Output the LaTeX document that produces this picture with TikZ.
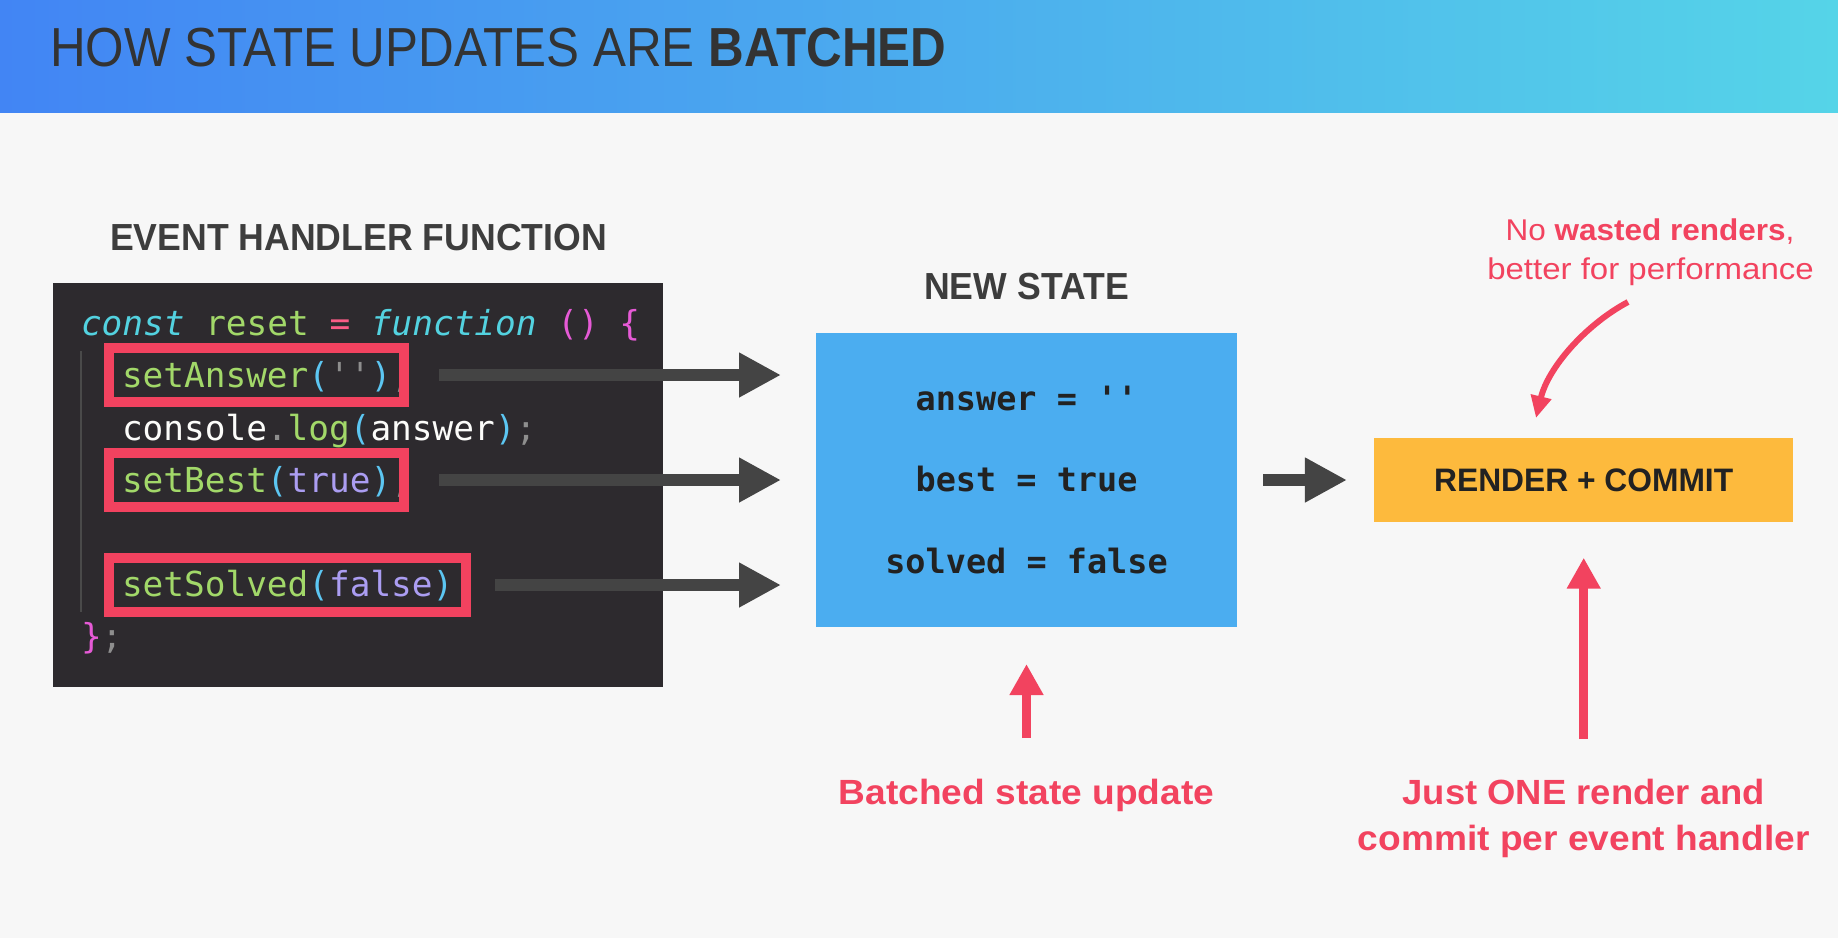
\documentclass[tikz,border=0pt]{standalone}
\usepackage{graphicx}
\usepackage{fontspec}
\setmainfont{Liberation Sans}
\setmonofont{DejaVu Sans Mono}
\usetikzlibrary{arrows.meta}

% palette
\definecolor{pagebg}{HTML}{F7F7F7}
\definecolor{hdrleft}{HTML}{4285F4}
\definecolor{hdrright}{HTML}{55D4E8}
\definecolor{titleink}{HTML}{333333}
\definecolor{headink}{HTML}{3D3D3D}
\definecolor{codebg}{HTML}{2D2A2E}
\definecolor{hlred}{HTML}{F2425F}
\definecolor{arrowgray}{HTML}{444444}
\definecolor{stateblue}{HTML}{4BADF0}
\definecolor{renderfill}{HTML}{FDBA3D}
\definecolor{accent}{HTML}{F2435F}
\definecolor{darkink}{HTML}{222222}
% code colours
\definecolor{ckw}{HTML}{53D2E0}
\definecolor{cgreen}{HTML}{A2D869}
\definecolor{cpink}{HTML}{FA5C86}
\definecolor{cmag}{HTML}{E65AD6}
\definecolor{cparen}{HTML}{5CC6F2}
\definecolor{cpunct}{HTML}{8E8E8E}
\definecolor{cconst}{HTML}{AB9DF2}
\definecolor{cwhite}{HTML}{FCFCFA}
\definecolor{guidegray}{HTML}{4A4A4A}

\newcommand{\setfs}[1]{\fontsize{#1}{#1}\selectfont}
\newcommand{\sx}[2]{\scalebox{#1}[1]{#2}}

\begin{document}
\begin{tikzpicture}[x=1pt,y=-1pt,
  every node/.style={inner sep=0pt, outer sep=0pt},
  heading/.style={anchor=base, text=headink, font=\bfseries\setfs{37.7}},
  codeline/.style={anchor=base west, font=\ttfamily\setfs{34.4}},
  statetext/.style={anchor=base, text=darkink, font=\ttfamily\bfseries\setfs{33.5}},
  hlbox/.style={draw=hlred, line width=10pt, minimum height=54pt},
  grayarrow/.style={draw=arrowgray, line width=12pt, -{Triangle[length=42pt,width=42pt]}},
  redarrow/.style={draw=accent, line width=9pt, -{Triangle[length=31pt,width=32pt]}},
  curvearrow/.style={draw=accent, line width=6pt, -{Triangle[length=22pt,width=20pt]}},
  note/.style={anchor=base, text=accent, font=\bfseries\setfs{35}},
]
\useasboundingbox (0,0) rectangle (1838,938);
\fill[pagebg] (0,0) rectangle (1838,938);

% header band
\shade[left color=hdrleft, right color=hdrright] (0,0) rectangle (1838,112.5);
\node[anchor=base west, text=titleink, font=\setfs{55}] (title) at (50,66.7)
  {\sx{0.898}{HOW STATE UPDATES ARE \textbf{BATCHED}}};

% event handler code
\node[heading] (ehf) at (358.5,250) {\sx{0.945}{EVENT HANDLER FUNCTION}};
\node[fill=codebg, minimum width=610pt, minimum height=404pt] (code) at (358,484.7) {};
\coordinate (g0) at (81,351);
\coordinate (g1) at (81,612);
\draw[guidegray, line width=2.5pt] (g0) -- (g1);

\node[codeline] (l1) at (81,335) {{\color{ckw}\itshape const} {\color{cgreen}reset} {\color{cpink}=} {\color{ckw}\itshape function} {\color{cmag}()} {\color{cmag}\{}};
\node[codeline] (l2) at (122,387.5) {{\color{cgreen}setAnswer}{\color{cparen}(}{\color{cpunct}''}{\color{cparen})}{\color{cpunct};}};
\node[codeline] (l3) at (122,440) {{\color{cwhite}console}{\color{cpunct}.}{\color{cgreen}log}{\color{cparen}(}{\color{cwhite}answer}{\color{cparen})}{\color{cpunct};}};
\node[codeline] (l4) at (122,492) {{\color{cgreen}setBest}{\color{cparen}(}{\color{cconst}true}{\color{cparen})}{\color{cpunct};}};
\node[codeline] (l6) at (122,596.7) {{\color{cgreen}setSolved}{\color{cparen}(}{\color{cconst}false}{\color{cparen})}};
\node[codeline] (l7) at (81,648) {{\color{cmag}\}}{\color{cpunct};}};

% highlighted setter calls
\node[hlbox, minimum width=295pt] (hl1) at (256.5,375) {};
\node[hlbox, minimum width=295pt] (hl2) at (256.5,480) {};
\node[hlbox, minimum width=357pt] (hl3) at (287.5,585) {};

% new state
\node[heading] (nsl) at (1026.5,299.5) {\sx{0.945}{NEW STATE}};
\node[fill=stateblue, minimum width=421pt, minimum height=293.5pt] (state) at (1026.5,480) {};
\node[statetext] (s1) at (1026.5,410) {answer = ''};
\node[statetext] (s2) at (1026.5,491.7) {best = true};
\node[statetext] (s3) at (1026.5,573.3) {solved = false};

% render + commit
\node[fill=renderfill, minimum width=419.5pt, minimum height=83.4pt,
      text=darkink, font=\bfseries\setfs{32.5}] (render) at (1583.7,480) {\sx{0.977}{RENDER + COMMIT}};

% setter arrows into the new state
\draw[grayarrow, shorten <=35pt, shorten >=35pt] (hl1.east) -- (hl1.east -| state.west);
\draw[grayarrow, shorten <=35pt, shorten >=35pt] (hl2.east) -- (hl2.east -| state.west);
\draw[grayarrow, shorten <=29pt, shorten >=35pt] (hl3.east) -- (hl3.east -| state.west);
\draw[grayarrow, shorten <=26pt, shorten >=27pt] (state.east) -- (render.west);

% annotations
\node[anchor=base, text=accent, font=\setfs{30}] (perf1) at (1650,240.7)
  {\sx{1.05}{No \textbf{wasted renders},}};
\node[anchor=base, text=accent, font=\setfs{30}] (perf2) at (1650.5,279.3)
  {\sx{1.10}{better for performance}};
\coordinate (c0) at (1628,302);
\coordinate (c1) at (1536,418);
\draw[curvearrow] (c0) .. controls (1585,325) and (1548,368) .. (c1);

\coordinate (b0) at (1026.5,738);
\draw[redarrow, shorten >=37.3pt] (b0) -- (b0 |- state.south);
\node[note] (batched) at (1026.5,804) {\sx{1.06}{Batched state update}};

\coordinate (r0) at (1583.7,739);
\draw[redarrow, shorten >=36pt] (r0) -- (r0 |- render.south);
\node[note] (one1) at (1583.7,804) {\sx{1.04}{Just ONE render and}};
\node[note] (one2) at (1583.7,850.7) {\sx{1.06}{commit per event handler}};
\end{tikzpicture}
\end{document}
